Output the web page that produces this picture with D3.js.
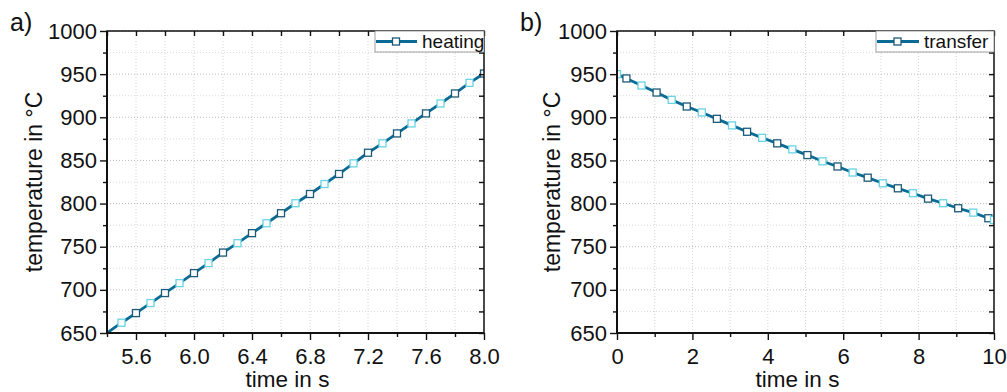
<!DOCTYPE html>
<html>
<head>
<meta charset="utf-8">
<script src="https://cdn.jsdelivr.net/npm/d3@7"></script>
<style>
  body { margin: 0; background: #fff; }
  svg text { font-family: "Liberation Sans", Arial, sans-serif; fill: #111; }
</style>
</head>
<body>
<svg id="chart" width="1007" height="392"></svg>
<script>
// values
var heatTime = [5.4, 5.5, 5.6, 5.7, 5.8, 5.9, 6.0, 6.1, 6.2, 6.3, 6.4, 6.5, 6.6, 6.7,
                6.8, 6.9, 7.0, 7.1, 7.2, 7.3, 7.4, 7.5, 7.6, 7.7, 7.8, 7.9, 8.0];
var heatTemp = [650, 661.9, 673.1, 684.7, 696.3, 707.8, 719.4, 731.0, 743.2, 754.1, 765.7, 777.2, 788.8, 800.4,
                811.1, 822.7, 834.3, 846.6, 858.9, 869.8, 881.3, 892.9, 904.5, 916.0, 927.6, 939.9, 950.7];

var transferTime = [0, 0.25, 0.65, 1.05, 1.45, 1.85, 2.25, 2.65, 3.05, 3.45, 3.85, 4.25, 4.65, 5.05,
                    5.45, 5.85, 6.25, 6.65, 7.05, 7.45, 7.85, 8.25, 8.65, 9.05, 9.45, 9.85, 10.0];
var transferTemp = [950, 945, 936.8, 928.7, 920.2, 912.5, 905.6, 898.2, 890.6, 883.2, 876.2, 869.8, 862.8, 856.2,
                    849, 843, 836, 830, 823.5, 817.7, 812, 805.7, 800.4, 794.6, 789.5, 783, 781];

var tempTicks = [650, 700, 750, 800, 850, 900, 950, 1000];
var tempMinor = [675, 725, 775, 825, 875, 925, 975];
var heatTicks = [5.6, 6.0, 6.4, 6.8, 7.2, 7.6, 8.0];
var heatMinor = [5.4, 5.8, 6.2, 6.6, 7.0, 7.4, 7.8];
var transferTicks = [0, 2, 4, 6, 8, 10];
var transferMinor = [1, 3, 5, 7, 9];

var lineColor = "#0a6c94";
var markDark = "#1d5a78";
var markLight = "#6ad3e4";

var svg = d3.select("#chart");

function panel(opt){
  var x = d3.scaleLinear().domain(opt.xDomain).range([opt.left, opt.right]);
  var y = d3.scaleLinear().domain([650, 1000]).range([333, 31]);
  var g = svg.append("g");
  var allX = opt.xTicks.concat(opt.xMinor);
  var allY = tempTicks.concat(tempMinor);

  // dotted grid
  g.selectAll(".gx").data(allX).enter().append("line")
      .attr("x1", function(d){ return x(d); }).attr("x2", function(d){ return x(d); })
      .attr("y1", y(650)).attr("y2", y(1000))
      .attr("stroke", "#d4d4d4").attr("stroke-width", 1).attr("stroke-dasharray", "1,2");
  g.selectAll(".gy").data(allY).enter().append("line")
      .attr("x1", opt.left).attr("x2", opt.right)
      .attr("y1", function(d){ return y(d); }).attr("y2", function(d){ return y(d); })
      .attr("stroke", function(d){ return tempTicks.indexOf(d) >= 0 ? "#bdbdbd" : "#dadada"; })
      .attr("stroke-width", 1).attr("stroke-dasharray", "1,2");

  // data
  var clipId = "clip" + opt.name;
  svg.append("clipPath").attr("id", clipId).append("rect")
      .attr("x", opt.left).attr("y", 31).attr("width", opt.right - opt.left).attr("height", 302);

  var pts = opt.t.map(function(t, i){ return [t, opt.v[i]]; });
  var line = d3.line().x(function(d){ return x(d[0]); }).y(function(d){ return y(d[1]); });
  var dg = g.append("g").attr("clip-path", "url(#" + clipId + ")");
  dg.append("path").datum(pts).attr("d", line)
      .attr("fill", "none").attr("stroke", lineColor).attr("stroke-width", 2.8);
  dg.selectAll(".m").data(pts.slice(opt.markFrom)).enter().append("rect")
      .attr("x", function(d){ return x(d[0]) - 3.5; })
      .attr("y", function(d){ return y(d[1]) - 3.5; })
      .attr("width", 7).attr("height", 7)
      .attr("fill", "#fff")
      .attr("stroke", function(d, i){ return i % 2 == 0 ? markLight : markDark; })
      .attr("stroke-width", 1.3);

  // axes
  var bottom = g.append("g").attr("transform", "translate(0,333)")
      .call(d3.axisBottom(x).tickValues(opt.xTicks).tickSize(7).tickPadding(8).tickFormat(opt.fmt));
  g.append("g").attr("transform", "translate(0,333)")
      .call(d3.axisBottom(x).tickValues(opt.xMinor).tickSize(4).tickFormat(""));
  var left = g.append("g").attr("transform", "translate(" + opt.left + ",0)")
      .call(d3.axisLeft(y).tickValues(tempTicks).tickSize(7).tickPadding(3).tickFormat(d3.format("d")));
  g.append("g").attr("transform", "translate(" + opt.left + ",0)")
      .call(d3.axisLeft(y).tickValues(tempMinor).tickSize(4).tickFormat(""));
  g.append("g").attr("transform", "translate(0,31)")
      .call(d3.axisTop(x).tickValues(allX).tickSize(-5).tickFormat(""));
  g.append("g").attr("transform", "translate(" + opt.right + ",0)")
      .call(d3.axisRight(y).tickValues(allY).tickSize(-5).tickFormat(""));
  g.selectAll(".domain").remove();
  g.selectAll(".tick line").attr("stroke", "#111").attr("stroke-width", 1.4);
  bottom.selectAll("text").attr("font-size", 22).style("font-family", "Liberation Sans, Arial, sans-serif");
  left.selectAll("text").attr("font-size", 22).style("font-family", "Liberation Sans, Arial, sans-serif");

  // frame
  g.append("rect").attr("x", opt.left).attr("y", 31)
      .attr("width", opt.right - opt.left).attr("height", 302)
      .attr("fill", "none").attr("stroke", "#111").attr("stroke-width", 1.5);
  g.append("line").attr("x1", opt.left).attr("x2", opt.left).attr("y1", 31).attr("y2", 334)
      .attr("stroke", "#111").attr("stroke-width", 2);
  g.append("line").attr("x1", opt.left - 1).attr("x2", opt.right).attr("y1", 333).attr("y2", 333)
      .attr("stroke", "#111").attr("stroke-width", 2);

  // legend
  var lg = g.append("g").attr("transform", "translate(" + opt.legX + ",31)");
  lg.append("rect").attr("x", 0).attr("y", 0).attr("width", opt.right - opt.legX).attr("height", 21)
      .attr("fill", "#fff").attr("stroke", "#888").attr("stroke-width", 0.8);
  lg.append("line").attr("x1", 1).attr("x2", opt.legLine).attr("y1", 10.5).attr("y2", 10.5)
      .attr("stroke", lineColor).attr("stroke-width", 2.8);
  lg.append("rect").attr("x", opt.legLine / 2 - 3.5).attr("y", 7).attr("width", 7).attr("height", 7)
      .attr("fill", "#fff").attr("stroke", markDark).attr("stroke-width", 1.3);
  lg.append("text").attr("x", opt.legLine + 5).attr("y", 17).attr("font-size", 19).text(opt.label);

  // titles
  g.append("text").attr("x", (opt.left + opt.right) / 2 - 8).attr("y", 387)
      .attr("text-anchor", "middle").attr("font-size", 22.5).text("time in s");
  g.append("text")
      .attr("transform", "translate(" + (opt.left - opt.titleOff) + ",182) rotate(-90)")
      .attr("text-anchor", "middle").attr("font-size", 23).text("temperature in °C");
  g.append("text").attr("x", opt.left - 97).attr("y", 31).attr("font-size", 25).text(opt.tag);
}

panel({ name: "a", tag: "a)", label: "heating", left: 107, right: 484, xDomain: [5.4, 8.0],
        xTicks: heatTicks, xMinor: heatMinor, fmt: d3.format(".1f"),
        t: heatTime, v: heatTemp, markFrom: 1, legX: 375, legLine: 42, titleOff: 65 });
panel({ name: "b", tag: "b)", label: "transfer", left: 617, right: 994, xDomain: [0, 10],
        xTicks: transferTicks, xMinor: transferMinor, fmt: d3.format("d"),
        t: transferTime, v: transferTemp, markFrom: 0, legX: 876, legLine: 43, titleOff: 57 });
</script>
</body>
</html>
